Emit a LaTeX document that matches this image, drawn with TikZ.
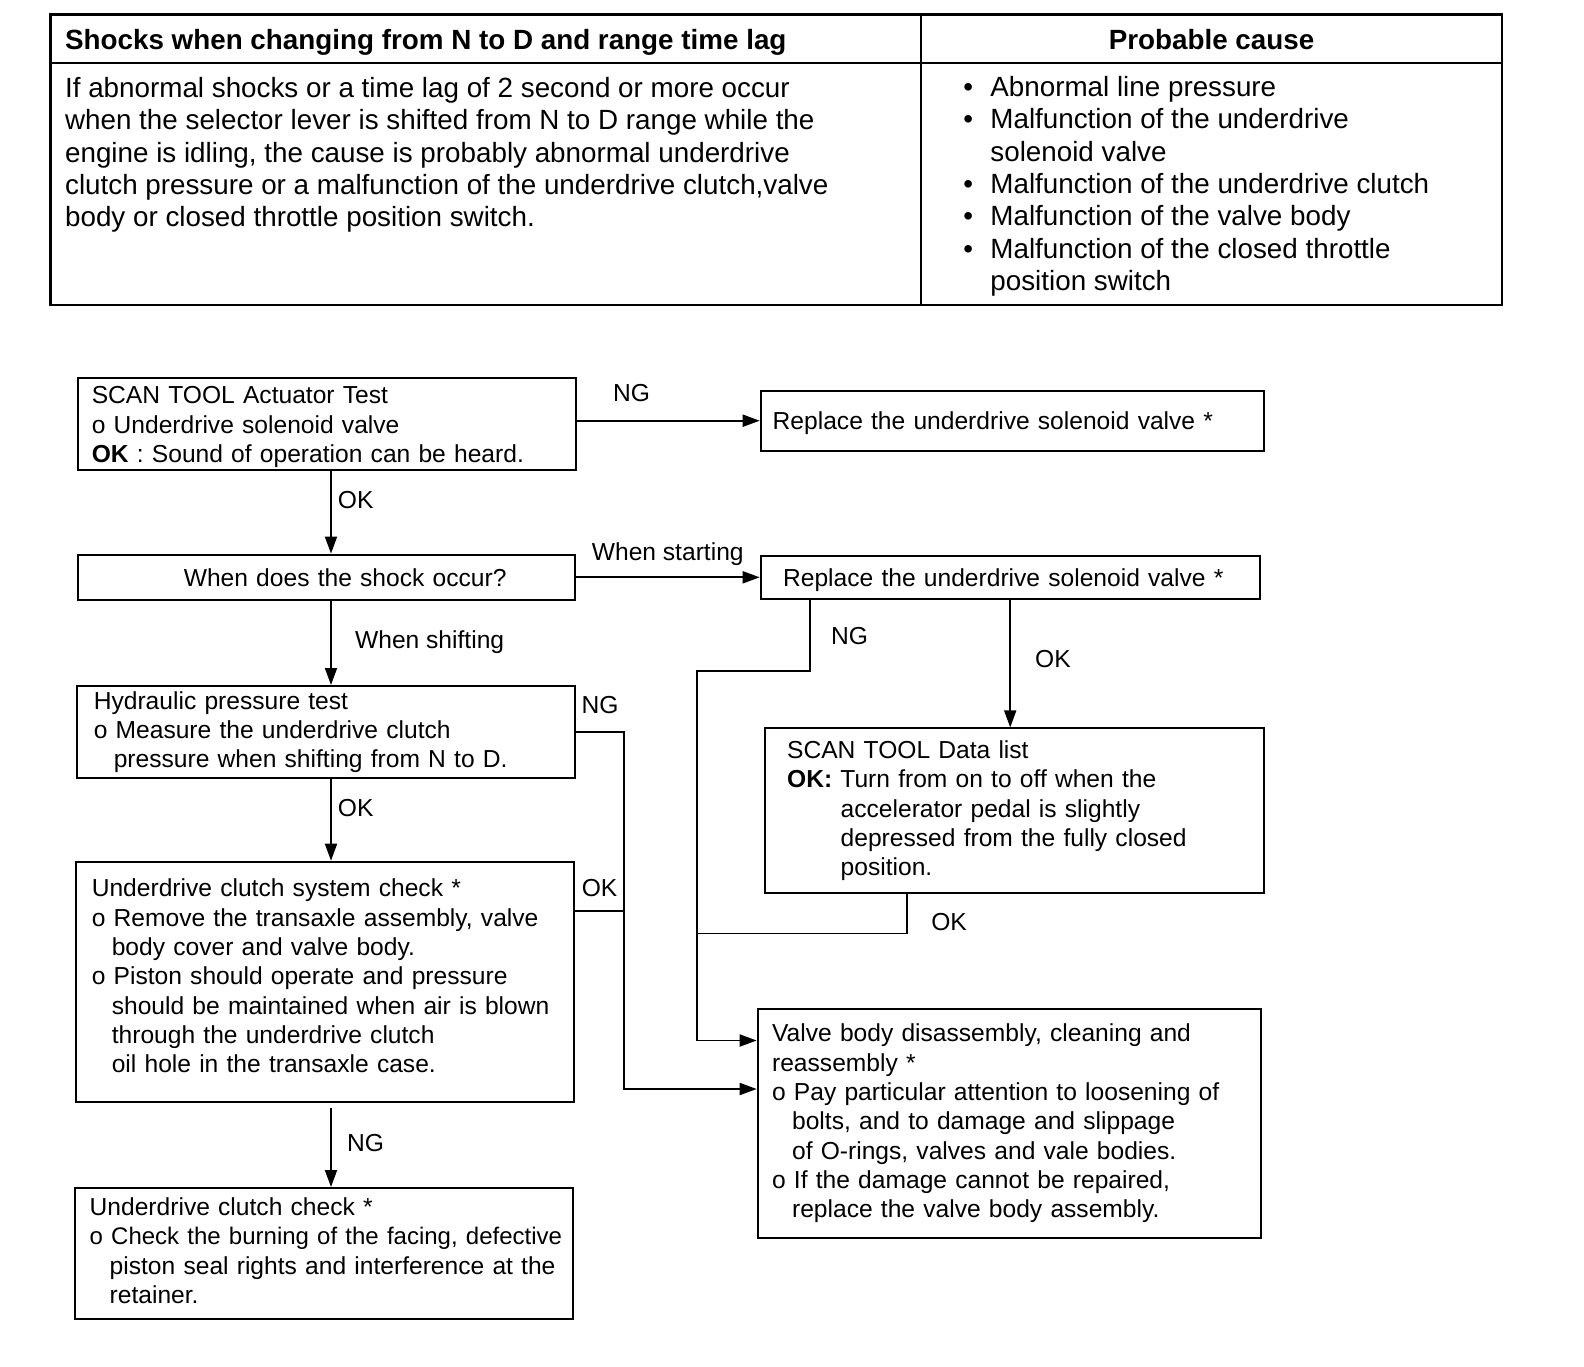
\documentclass[tikz,border=0pt]{standalone}
\usepackage{fontspec}
\setmainfont{Liberation Sans}
\usepackage{tikz}
\usetikzlibrary{arrows.meta,positioning}
\newcommand{\cont}{\hspace*{10pt}}
\newcommand{\okind}{\hspace*{26.8pt}}
\newcommand{\bul}{\makebox[13.5pt][l]{\textbullet}}

\begin{document}
\begin{tikzpicture}[x=.5pt,y=-.5pt,
box/.style={draw,line width=1pt,anchor=north west,align=left,inner ysep=0pt,font=\fontsize{12.3}{14.65}\selectfont},
arr/.style={-{Triangle[length=8.5pt,width=6pt]},line width=.9pt},
wire/.style={line width=.9pt},
lbl/.style={inner sep=0pt,text depth=0pt,font=\fontsize{12.3}{14.65}\selectfont},
cell/.style={inner sep=0pt,anchor=north west,align=left,font=\fontsize{13.9}{16.15}\selectfont},
head/.style={inner sep=0pt,text depth=0pt,font=\fontsize{13.9}{16.15}\selectfont\bfseries}]

\useasboundingbox(0,0)rectangle(1584,1366);
\draw[line width=1.2pt](50.5,14.5)rectangle(1502,305);
\draw[line width=1pt](50.5,63)--(1502,63);
\draw[line width=1pt](921,14.5)--(921,305);
\node[head,anchor=west] (hd) at(64.7,39.4){Shocks when changing from N to D and range time lag};
\node[head] (pc) at(1211.5,39.4){Probable cause};
\node[cell] (sym) at(64.7,77){If abnormal shocks or a time lag of 2 second or more occur\\when the selector lever is shifted from N to D range while the\\engine is idling, the cause is probably abnormal underdrive\\clutch pressure or a malfunction of the underdrive clutch,valve\\body or closed throttle position switch.};
\node[cell] (cause) at(963,76){\bul Abnormal line pressure\\\bul Malfunction of the underdrive\\\hspace*{13.5pt}solenoid valve\\\bul Malfunction of the underdrive clutch\\\bul Malfunction of the valve body\\\bul Malfunction of the closed throttle\\\hspace*{13.5pt}position switch};

\node[box,inner xsep=7pt,text width=235pt,minimum height=46pt,text height=12pt] (act) at(76.8,376.8){SCAN TOOL Actuator Test\\o Underdrive solenoid valve\\\textbf{OK} : Sound of operation can be heard.};
\node[box,inner xsep=6pt,text width=239.5pt,minimum height=29.8pt,text depth=0pt] (rep1) at(759.7,389.9){Replace the underdrive solenoid valve *};
\node[box,inner xsep=7pt,text width=234.5pt,minimum height=22.7pt] (shock) at(76.8,553.6){\hspace*{46pt}When does the shock occur?};
\node[box,inner xsep=11.2pt,text width=227.1pt,minimum height=21.7pt,text depth=0pt] (rep2) at(759.7,554.6){Replace the underdrive solenoid valve *};
\node[box,inner xsep=8.5pt,text width=232pt,minimum height=46pt] (hyd) at(75.8,685){Hydraulic pressure test\\o Measure the underdrive clutch\\\cont pressure when shifting from N to D.};
\node[box,inner xsep=8pt,text width=233pt,minimum height=120.15pt,text depth=93.9pt] (sys) at(74.8,860.7){Underdrive clutch system check *\\o Remove the transaxle assembly, valve\\\cont body cover and valve body.\\o Piston should operate and pressure\\\cont should be maintained when air is blown\\\cont through the underdrive clutch\\\cont oil hole in the transaxle case.};
\node[box,inner xsep=7.5pt,text width=234pt,minimum height=65.5pt,text depth=47pt] (clu) at(73.7,1187){Underdrive clutch check *\\\mbox{\fontsize{12}{14.65}\selectfont o Check the burning of the facing, defective}\\\cont piston seal rights and interference at the\\\cont retainer.};
\node[box,inner xsep=11.2pt,text width=227pt,minimum height=82.3pt] (data) at(763.7,727.4){SCAN TOOL Data list\\\textbf{OK:} Turn from on to off when the\\\okind accelerator pedal is slightly\\\okind depressed from the fully closed\\\okind position.};
\node[box,inner xsep=7.2pt,text width=237pt,minimum height=114.15pt] (vb) at(756.7,1008.2){Valve body disassembly, cleaning and\\reassembly *\\o Pay particular attention to loosening of\\\cont bolts, and to damage and slippage\\\cont of O-rings, valves and vale bodies.\\o If the damage cannot be repaired,\\\cont replace the valve body assembly.};

\coordinate (mx) at(331,0);
\coordinate (nk) at(810.2,670.8);
\coordinate (lk) at(697,1040.5);
\coordinate (ok) at(907,933.4);
\coordinate (rk) at(624.3,1089);
\coordinate (fk) at(624.3,911.2);

\draw[arr](act.east|-rep1)--node[lbl,pos=.3,above=9.3pt]{NG}(rep1.west);
\draw[arr](act.south-|mx)--node[lbl,pos=.35,right=3pt]{OK}(shock.north-|mx);
\draw[arr](shock.east)--node[lbl,above=8pt]{When starting}(rep2.west);
\draw[arr](shock.south-|mx)--node[lbl,pos=.46,right=11.6pt]{When shifting}(hyd.north-|mx);
\draw[arr](hyd.south-|mx)--node[lbl,pos=.35,right=3pt]{OK}(sys.north-|mx);
\draw[arr,shorten <=2.5pt](sys.south-|mx)--node[lbl,pos=.47,right=7.6pt]{NG}(clu.north-|mx);
\draw[arr](rep2.south)--node[lbl,pos=.46,right=12pt]{OK}(rep2.south|-data.north);
\draw[arr](rep2.south-|nk)--node[lbl,right=10pt]{NG}(nk)-|(lk)--(vb.west|-lk);
\draw[wire](data.south-|ok)--node[lbl,pos=.7,right=11.7pt]{OK}(ok)--(ok-|lk);
\draw[arr](hyd.east)-|node[lbl,pos=.25,above=9pt]{NG}(rk)--(vb.west|-rk);
\draw[wire](sys.east|-fk)--node[lbl,above=6.7pt]{OK}(fk);
\end{tikzpicture}
\end{document}
